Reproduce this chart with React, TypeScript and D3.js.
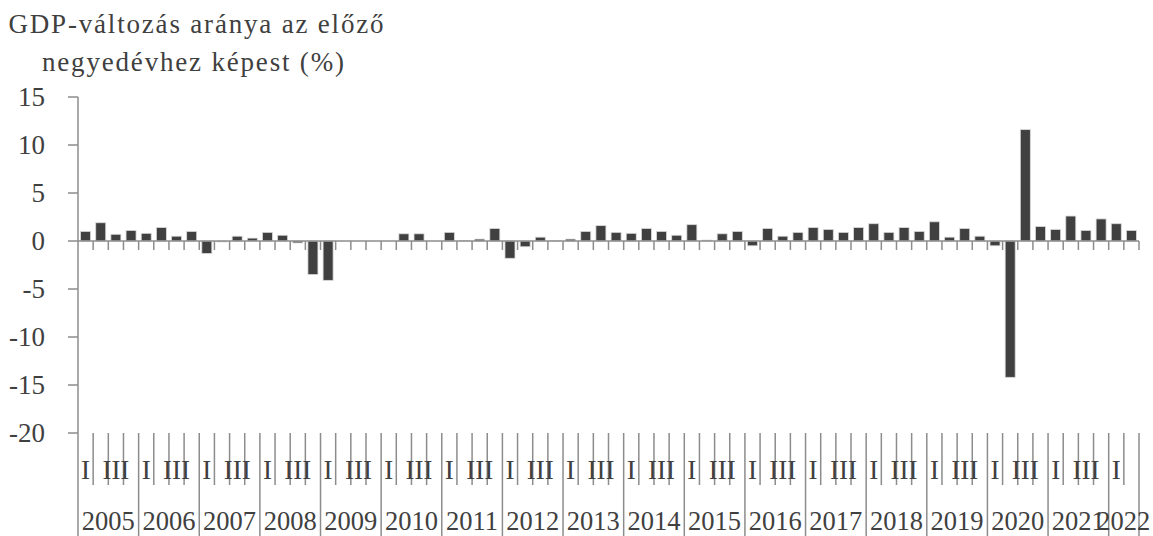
import React from "react";
import * as d3 from "d3";

const years = [2005, 2006, 2007, 2008, 2009, 2010, 2011, 2012, 2013, 2014, 2015, 2016, 2017, 2018, 2019, 2020, 2021, 2022];
const quarterNames = ["I", "II", "III", "IV"];
const quartersShown = ["I", "III"];
// quarter-on-quarter GDP change (%), 2005 Q1 .. 2022 Q2
const values = [
  1.0, 1.9, 0.7, 1.1,
  0.8, 1.4, 0.5, 1.0,
  -1.3, -0.1, 0.5, 0.3,
  0.9, 0.6, -0.2, -3.5,
  -4.1, 0, 0, 0,
  0, 0.75, 0.75, 0,
  0.9, 0.05, 0.2, 1.3,
  -1.8, -0.6, 0.4, 0.05,
  0.2, 1.0, 1.6, 0.9,
  0.8, 1.3, 1.0, 0.6,
  1.7, 0.1, 0.75, 1.0,
  -0.5, 1.3, 0.5, 0.9,
  1.4, 1.2, 0.9, 1.4,
  1.8, 0.9, 1.4, 1.0,
  2.0, 0.4, 1.3, 0.5,
  -0.5, -14.2, 11.6, 1.5,
  1.2, 2.6, 1.1, 2.3,
  1.8, 1.1,
];
const yTicks = [15, 10, 5, 0, -5, -10, -15, -20];
const titleLines = ["GDP-változás aránya az előző", "negyedévhez képest (%)"];

const W = 1153;
const H = 536;
const FONT = "'Liberation Serif', 'Times New Roman', serif";
const TEXT = "#404040";
const AXIS = "#8c8c8c";

export default function App() {
  const n = values.length;
  const x = d3.scaleLinear().domain([0, n]).range([78, 1139]);
  const y = d3.scaleLinear().domain([-20, 15]).range([433, 97]);
  const step = x(1) - x(0);
  const barW = step * 0.66;

  const yearSpans = years.map((yr, yi) => {
    const start = yi * 4;
    const end = Math.min(start + 4, n);
    return { yr, start, end };
  });

  const qLabelY = 479;
  const yearBaseline = 530;

  return (
    <svg width={W} height={H} style={{ position: "absolute", left: 0, top: 0 }} fontFamily={FONT}>
      <rect x={0} y={0} width={W} height={H} fill="#ffffff" />
      {/* title */}
      {titleLines.map((t, i) => (
        <text key={i} x={i === 0 ? 196 : 193} y={i === 0 ? 33 : 71} textAnchor="middle" fontSize={27} fill={TEXT}
          textLength={i === 0 ? 375 : 302} lengthAdjust="spacing">
          {t}
        </text>
      ))}
      {/* y axis */}
      <line x1={78} x2={78} y1={y(15)} y2={H} stroke={AXIS} strokeWidth={1.5} />
      {yTicks.map((t) => (
        <g key={t}>
          <line x1={68} x2={78} y1={y(t)} y2={y(t)} stroke={AXIS} strokeWidth={1.5} />
          <text x={45} y={y(t)} dy="0.35em" textAnchor="end" fontSize={27} fill={TEXT}>
            {t}
          </text>
        </g>
      ))}
      {/* bars */}
      {values.map((v, i) => (
        <rect key={i} x={x(i) + (step - barW) / 2} y={Math.min(y(v), y(0))} width={barW}
          height={Math.abs(y(v) - y(0))} fill="#404040" stroke="#d9d9d9" strokeWidth={0.8} />
      ))}
      {/* zero axis with ticks */}
      <line x1={78} x2={x(n)} y1={y(0)} y2={y(0)} stroke={AXIS} strokeWidth={1.5} />
      {d3.range(1, n + 1).map((i) => (
        <line key={i} x1={x(i)} x2={x(i)} y1={y(0)} y2={y(0) + 9} stroke={AXIS} strokeWidth={1.5} />
      ))}
      {/* category boundaries */}
      {d3.range(1, n + 1).map((i) => {
        const isYear = i % 4 === 0 || i === n;
        return (
          <line key={"b" + i} x1={x(i)} x2={x(i)} y1={433} y2={isYear ? H : 485} stroke={AXIS} strokeWidth={1.5} />
        );
      })}
      {/* quarter labels */}
      {values.map((_, i) => {
        const q = quarterNames[i % 4];
        if (!quartersShown.includes(q)) return null;
        return (
          <text key={"q" + i} x={x(i) + step / 2} y={qLabelY} textAnchor="middle" fontSize={27} fill={TEXT}>
            {q}
          </text>
        );
      })}
      {/* year labels */}
      {yearSpans.map((s) => (
        <text key={s.yr} x={(x(s.start) + x(s.end)) / 2} y={yearBaseline} textAnchor="middle" fontSize={26.5} fill={TEXT}>
          {s.yr}
        </text>
      ))}
    </svg>
  );
}
